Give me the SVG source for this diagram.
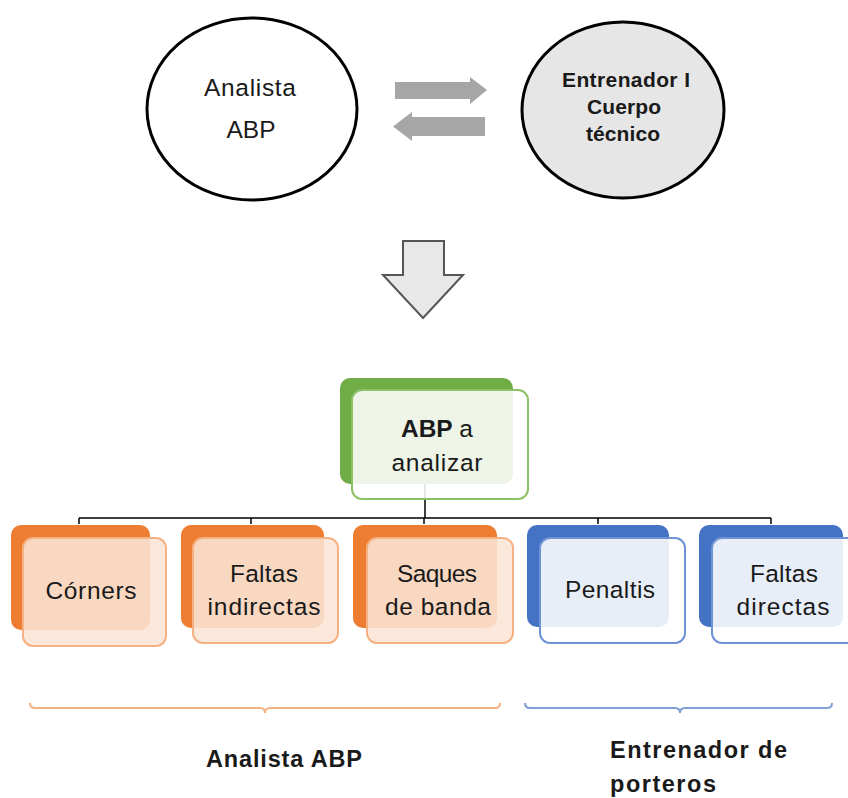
<svg xmlns="http://www.w3.org/2000/svg" width="848" height="798" viewBox="0 0 848 798">
<style>
text{font-family:"Liberation Sans",Arial,sans-serif;fill:#1a1a1a;text-anchor:middle}
.t{font-size:24.5px}
.b{font-weight:bold}
.conn{stroke:#000;stroke-width:1.5;fill:none}
.ob{fill:#ed7d31}
.of{fill:#fbe5d6;fill-opacity:0.88;stroke:#f4b183;stroke-width:2}
.bb{fill:#4472c4}
.bf{fill:#fff;fill-opacity:0.88;stroke:#6f93d4;stroke-width:2}
.gb{fill:#70ad47}
.gf{fill:#fff;fill-opacity:0.88;stroke:#8cc168;stroke-width:2}
.ga{fill:#a6a6a6}
</style>
<rect width="848" height="798" fill="#fff"/>
<g id="analista">
<ellipse cx="252" cy="109" rx="105" ry="91" fill="#fff" stroke="#000" stroke-width="3"/>
<text class="t" x="250" y="96" textLength="92">Analista</text>
<text class="t" x="251" y="138">ABP</text>
</g>
<g id="entrenador">
<ellipse cx="623" cy="110" rx="101" ry="88" fill="#e6e6e6" stroke="#000" stroke-width="3"/>
<text class="b" font-size="21" x="626" y="87" textLength="128">Entrenador I</text>
<text class="b" font-size="21" x="624" y="114" textLength="74">Cuerpo</text>
<text class="b" font-size="21" x="623" y="141" textLength="74">técnico</text>
</g>
<g id="exchange">
<polygon class="ga" points="395,82 470,82 470,77 487,90 470,104 470,99 395,99"/>
<polygon class="ga" points="485,117 412,117 412,112 393,126.5 412,141 412,136 485,136"/>
</g>
<g id="down-arrow">
<polygon points="403,241 444,241 444,275 463,275 423,318 383,275 403,275" fill="#e8e8e8" stroke="#555" stroke-width="2" stroke-linejoin="miter"/>
</g>
<g id="connectors">
<path class="conn" d="M425,484 V518 M79,518 H771 M79,518 V524 M251,518 V524 M424,518 V524 M598,518 V524 M771,518 V524"/>
</g>
<g id="abp">
<rect class="gb" x="340" y="378" width="173" height="106" rx="10"/>
<rect class="gf" x="352" y="390" width="176" height="109" rx="10"/>
<text class="t" x="437" y="437" textLength="72"><tspan class="b">ABP</tspan> a</text>
<text class="t" x="437" y="471" textLength="91">analizar</text>
</g>
<g id="corners">
<rect class="ob" x="11" y="525" width="139" height="105" rx="10"/>
<rect class="of" x="23" y="538" width="143" height="108" rx="10"/>
<text class="t" x="91" y="599" textLength="91">Córners</text>
</g>
<g id="faltas-indirectas">
<rect class="ob" x="181" y="525" width="143" height="103" rx="10"/>
<rect class="of" x="193" y="538" width="145" height="105" rx="10"/>
<text class="t" x="264" y="582" textLength="68">Faltas</text>
<text class="t" x="264" y="615" textLength="113">indirectas</text>
</g>
<g id="saques-banda">
<rect class="ob" x="353" y="525" width="144" height="103" rx="10"/>
<rect class="of" x="367" y="538" width="146" height="105" rx="10"/>
<text class="t" x="437" y="582" textLength="80">Saques</text>
<text class="t" x="438" y="615" textLength="106">de banda</text>
</g>
<g id="penaltis">
<rect class="bb" x="527" y="525" width="142" height="102" rx="10"/>
<rect class="bf" x="540" y="538" width="145" height="105" rx="10"/>
<text class="t" x="610" y="598" textLength="90">Penaltis</text>
</g>
<g id="faltas-directas">
<rect class="bb" x="699" y="525" width="144" height="102" rx="10"/>
<rect class="bf" x="712" y="538" width="145" height="105" rx="10"/>
<text class="t" x="784" y="582" textLength="68">Faltas</text>
<text class="t" x="783" y="615" textLength="93">directas</text>
</g>
<g id="brackets">
<path d="M30,703 Q30,708 35,708 H260 Q265,708 265,713 Q265,708 270,708 H495 Q500,708 500,703" fill="none" stroke="#f4b183" stroke-width="2"/>
<path d="M525,703 Q525,708 530,708 H675 Q680,708 680,713 Q680,708 685,708 H827 Q832,708 832,703" fill="none" stroke="#7f9fd8" stroke-width="2"/>
</g>
<g id="labels">
<text class="b" font-size="23.5" x="284" y="767" textLength="156">Analista ABP</text>
<text class="b" font-size="23.5" x="610" y="758" textLength="177" style="text-anchor:start">Entrenador de</text>
<text class="b" font-size="23.5" x="610" y="792" textLength="106" style="text-anchor:start">porteros</text>
</g>
</svg>
